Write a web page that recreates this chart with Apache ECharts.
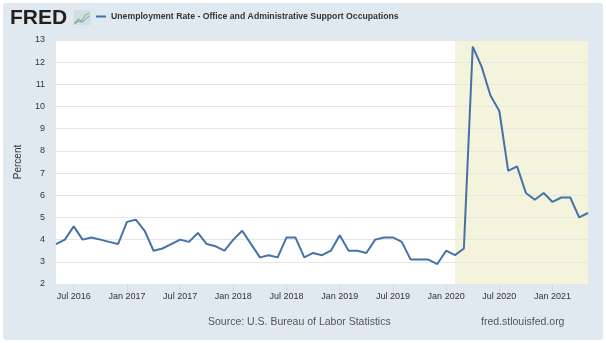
<!DOCTYPE html>
<html><head><meta charset="utf-8">
<script src="https://cdn.jsdelivr.net/npm/echarts@6/dist/echarts.min.js"></script>
<style>html,body{margin:0;padding:0;background:#fff}#c{width:606px;height:343px}</style>
</head><body><div id="c"></div>
<script>
const months = [
  '2016-05','2016-06','2016-07','2016-08','2016-09','2016-10','2016-11','2016-12',
  '2017-01','2017-02','2017-03','2017-04','2017-05','2017-06','2017-07','2017-08','2017-09','2017-10','2017-11','2017-12',
  '2018-01','2018-02','2018-03','2018-04','2018-05','2018-06','2018-07','2018-08','2018-09','2018-10','2018-11','2018-12',
  '2019-01','2019-02','2019-03','2019-04','2019-05','2019-06','2019-07','2019-08','2019-09','2019-10','2019-11','2019-12',
  '2020-01','2020-02','2020-03','2020-04','2020-05','2020-06','2020-07','2020-08','2020-09','2020-10','2020-11','2020-12',
  '2021-01','2021-02','2021-03','2021-04','2021-05'
];
const unemploymentRate = [
  3.8, 4.0, 4.6, 4.0, 4.1, 4.0, 3.9, 3.8,
  4.8, 4.9, 4.4, 3.5, 3.6, 3.8, 4.0, 3.9, 4.3, 3.8, 3.7, 3.5,
  4.0, 4.4, 3.8, 3.2, 3.3, 3.2, 4.1, 4.1, 3.2, 3.4, 3.3, 3.5,
  4.2, 3.5, 3.5, 3.4, 4.0, 4.1, 4.1, 3.9, 3.1, 3.1, 3.1, 2.9,
  3.5, 3.3, 3.6, 12.7, 11.8, 10.5, 9.8, 7.1, 7.3, 6.1, 5.8, 6.1,
  5.7, 5.9, 5.9, 5.0, 5.2
];
const tickMonths = ['2016-07','2017-01','2017-07','2018-01','2018-07','2019-01','2019-07','2020-01','2020-07','2021-01'];
const tickLabels = ['Jul 2016','Jan 2017','Jul 2017','Jan 2018','Jul 2018','Jan 2019','Jul 2019','Jan 2020','Jul 2020','Jan 2021'];
const shadedPeriod = ['2020-02', '2021-05'];
const seriesName = 'Unemployment Rate - Office and Administrative Support Occupations';

const labelMap = {};
tickMonths.forEach((m, i) => { labelMap[m] = tickLabels[i]; });
const showTick = (idx, val) => labelMap.hasOwnProperty(val);
const FONT = "'Liberation Sans', Arial, sans-serif";

const chart = echarts.init(document.getElementById('c'), null, {renderer: 'canvas'});
chart.setOption({
  animation: false,
  backgroundColor: '#ffffff',
  textStyle: {fontFamily: FONT},
  graphic: [
    {type: 'rect', z: -10, shape: {x: 3, y: 3, width: 600, height: 337, r: 3}, style: {fill: '#e1e9f0'}},
    {type: 'text', left: 10, top: 8, style: {text: 'FRED', font: "bold 21px 'Liberation Sans', Arial, sans-serif", fill: '#231f20'}},
    {type: 'group', left: 72, top: 10, children: [
      {type: 'rect', shape: {x: 0, y: 0, width: 17, height: 15}, style: {fill: '#d3dde6'}},
      {type: 'polyline', shape: {points: [[1, 13], [5, 9], [8, 11], [12, 5], [16, 3]]}, style: {stroke: '#8fbf6a', lineWidth: 1.2, fill: null}},
      {type: 'polyline', shape: {points: [[1, 14], [5, 11], [9, 12], [13, 8], [16, 6]]}, style: {stroke: '#6f93bd', lineWidth: 1, fill: null}}
    ]},
    {type: 'text', left: 208, top: 317, style: {text: 'Source: U.S. Bureau of Labor Statistics', font: "10.5px 'Liberation Sans', Arial, sans-serif", fill: '#555'}},
    {type: 'text', left: 481, top: 317, style: {text: 'fred.stlouisfed.org', font: "10.5px 'Liberation Sans', Arial, sans-serif", fill: '#555'}}
  ],
  legend: {
    show: true, left: 96, top: 12, padding: 0,
    icon: 'rect', itemWidth: 10, itemHeight: 2, itemGap: 5,
    data: [seriesName],
    textStyle: {fontFamily: FONT, fontSize: 8.7, fontWeight: 'bold', color: '#333'}
  },
  grid: {left: 56, right: 18, top: 40, bottom: 59, show: true, backgroundColor: '#ffffff', borderWidth: 0},
  xAxis: {
    type: 'category', data: months, boundaryGap: false,
    axisLine: {show: true, lineStyle: {color: '#ccd6eb'}},
    axisTick: {show: true, interval: showTick, length: 7, lineStyle: {color: '#ccd6eb'}},
    axisLabel: {interval: showTick, formatter: v => labelMap[v] || '', fontSize: 9, color: '#333', margin: 8, fontFamily: FONT},
    splitLine: {show: false}
  },
  yAxis: {
    type: 'value', min: 2, max: 13, interval: 1, z: 2,
    name: 'Percent', nameLocation: 'middle', nameRotate: 90, nameGap: 33,
    nameTextStyle: {fontSize: 10, color: '#333', fontFamily: FONT},
    axisLine: {show: false}, axisTick: {show: false},
    axisLabel: {fontSize: 9, color: '#333', margin: 11, fontFamily: FONT},
    splitLine: {show: true, lineStyle: {color: '#e6e6e6', width: 1}}
  },
  series: [
    {
      name: 'shade', type: 'line', data: unemploymentRate, z: 1, silent: true,
      showSymbol: false, lineStyle: {opacity: 0}, legendHoverLink: false,
      markArea: {silent: true, itemStyle: {color: '#f4f4dc'}, data: [[{xAxis: shadedPeriod[0]}, {xAxis: shadedPeriod[1]}]]}
    },
    {
      name: seriesName, type: 'line', data: unemploymentRate, z: 3,
      showSymbol: false, symbol: 'none', color: '#4572a7',
      lineStyle: {color: '#4572a7', width: 2}
    }
  ]
});
</script></body></html>
